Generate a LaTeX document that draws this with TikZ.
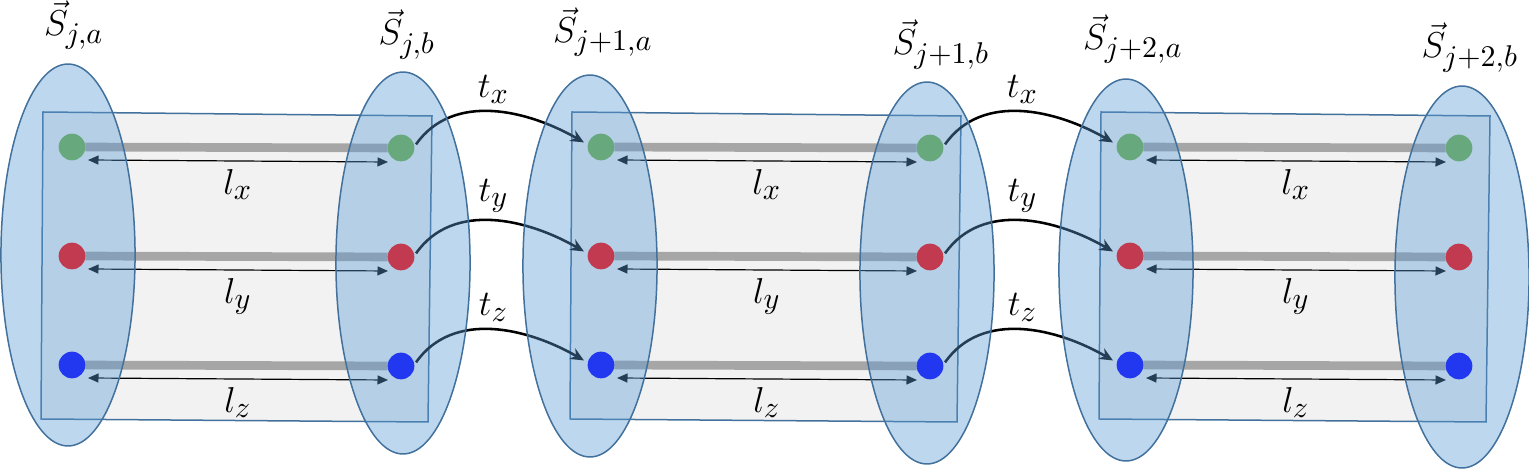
\documentclass[tikz,border=0pt]{standalone}
\usetikzlibrary{arrows.meta, shapes.geometric, calc}
\DeclareMathSizes{12}{12}{10}{8}
\definecolor{spinfill}{HTML}{5B9BD5}
\definecolor{spinedge}{HTML}{41719C}
\definecolor{barcol}{HTML}{A6A6A6}
\definecolor{dotgreen}{HTML}{67A87C}
\definecolor{dotred}{HTML}{C23A50}
\definecolor{dotblue}{HTML}{2238F0}
\pgfdeclarelayer{back}
\pgfsetlayers{back,main}
\tikzset{
  spin/.style = {
    ellipse, draw=spinedge, line width=0.5pt,
    fill=spinfill, fill opacity=0.4,
    minimum width=44.7pt, minimum height=127.3pt, inner sep=0pt
  },
  site/.style  = {circle, minimum size=8.9pt, inner sep=0pt, outer sep=0pt},
  plate/.style = {fill=black!5, draw=spinedge, line width=0.5pt},
  bar/.style   = {barcol, line width=2.9pt},
  larr/.style  = {{Triangle[length=3.5pt,width=3pt]}-{Triangle[length=3.5pt,width=3pt]},
                  line width=0.4pt, black},
  tarr/.style  = {-{Stealth[length=4.5pt,width=4pt]}, line width=0.85pt, black},
  lbl/.style   = {anchor=base, inner sep=0pt, font=\fontsize{12}{14}\selectfont},
  sym/.style   = {font=\fontsize{12}{14}\selectfont, inner sep=2.5pt}
}

\begin{document}
\begin{tikzpicture}[x=0.3333pt, y=-0.3333pt]
  \useasboundingbox (0,0) rectangle (1529,469);

  %% Spin ellipses
  \node[spin] (S1a) at (  68,255) {};
  \node[spin] (S1b) at ( 403,263) {};
  \node[spin] (S2a) at ( 590,266) {};
  \node[spin] (S2b) at ( 927,273) {};
  \node[spin] (S3a) at (1126,270) {};
  \node[spin] (S3b) at (1462,277) {};

  %% Spin labels
  \node[lbl] (L1a) at (  74,36) {$\vec{S}_{j,a}$};
  \node[lbl] (L1b) at ( 407,45) {$\vec{S}_{j,b}$};
  \node[lbl] (L2a) at ( 603,43) {$\vec{S}_{j+1,a}$};
  \node[lbl] (L2b) at ( 941,55) {$\vec{S}_{j+1,b}$};
  \node[lbl] (L3a) at (1133,50) {$\vec{S}_{j+2,a}$};
  \node[lbl] (L3b) at (1470,58) {$\vec{S}_{j+2,b}$};

  %% Sites
  \foreach \blk/\dx in {1/0, 2/529, 3/1058} {
    \foreach \row/\col/\ya/\yb in {x/dotgreen/147/148, y/dotred/256/257, z/dotblue/365/366} {
      \node[site, fill=\col] (\row\blk a) at ( 72+\dx,\ya) {};
      \node[site, fill=\col] (\row\blk b) at (401+\dx,\yb) {};
    }
  }

  \begin{pgfonlayer}{back}
    %% Plates
    \foreach \dx in {0, 529, 1058}
      \draw[plate] (43+\dx,112) -- (432+\dx,116) -- (428+\dx,422) -- (41+\dx,419) -- cycle;

    %% Bars and lengths
    \foreach \blk in {1,2,3} {
      \foreach \row in {x,y,z} {
        \draw[bar] (\row\blk a) -- (\row\blk b);
        \draw[larr] ($(\row\blk a)+(16,13)$) -- ($(\row\blk b)+(-13,14)$)
          node[midway, below, sym] (l\row\blk) {$l_\row$};
      }
    }

    %% Hoppings
    \foreach \blk/\nxt in {1/2, 2/3} {
      \foreach \row in {x,y,z} {
        \draw[tarr, shorten <=1pt, shorten >=1.5pt] (\row\blk b.5)
          to[out=55, in=150] node[midway, above, sym] (t\row\blk) {$t_\row$} (\row\nxt a.170);
      }
    }
  \end{pgfonlayer}
\end{tikzpicture}
\end{document}
